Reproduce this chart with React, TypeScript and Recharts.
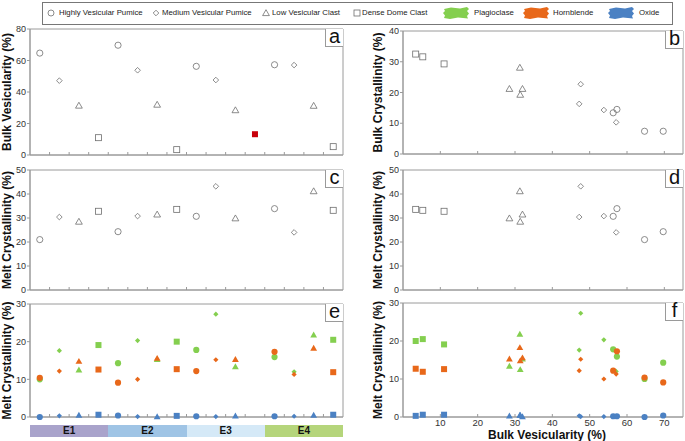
import React from "react";
import { ScatterChart, Scatter, XAxis, YAxis, ReferenceArea } from "recharts";

// samples are ordered E1..E4, each with the four clast types below
const eruptions = ["E1", "E2", "E3", "E4"];
const clastTypes = [
  "Highly Vesicular Pumice",
  "Medium Vesicular Pumice",
  "Low Vesicular Clast",
  "Dense Dome Clast",
];
const phases = ["Plagioclase", "Hornblende", "Oxide"];

const bulkVesicularity = [64.7, 47.2, 31.4, 11.0, 69.7, 53.8, 32.0, 3.4, 56.3, 47.6, 28.5, 13.2, 57.3, 57.1, 31.3, 5.3];
const bulkCrystallinity = [7.4, 16.3, 19.3, 29.3, 7.4, 14.3, 21.2, 32.5, 13.4, 22.7, 21.2, null, 14.5, 10.3, 28.1, 31.6];
const meltCrystallinity = [21.0, 30.4, 28.5, 32.8, 24.3, 30.8, 31.5, 33.6, 30.7, 43.2, 29.9, null, 33.9, 24.0, 41.2, 33.2];
const plagioclase = [10.0, 17.6, 12.5, 19.1, 14.3, 20.3, 15.3, 20.0, 17.8, 27.3, 13.4, null, 15.9, 12.0, 21.8, 20.5];
const hornblende = [10.4, 12.2, 14.8, 12.6, 9.1, 10.0, 15.6, 12.7, 12.2, 15.2, 15.3, null, 17.3, 11.3, 18.3, 11.9];
const oxide = [0.0, 0.3, 0.5, 0.6, 0.4, 0.1, 0.1, 0.3, 0.2, 0.1, 0.3, null, 0.2, 0.2, 0.5, 0.6];
const highlightedSample = 11; // dense dome clast of E3, only bulk vesicularity measured

const vesTicks = [0, 20, 40, 60, 80];
const bulkCrystTicks = [0, 10, 20, 30, 40];
const meltCrystTicks = [0, 10, 20, 30, 40, 50];
const phaseTicks = [0, 10, 20, 30];
const vesAxisTicks = [10, 20, 30, 40, 50, 60, 70];

const FONT = '"Liberation Sans", Arial, Helvetica, sans-serif';
const AXIS_GREY = "#9a9a9a";
const OPEN_STROKE = "#6e6e6e";
const phaseColors = ["#84cf4f", "#e8681a", "#4b81c3"];
const eruptionColors = ["#a9a3cb", "#9fc4e5", "#d5e9f7", "#b5d57b"];

const nSamples = bulkVesicularity.length;
const bandEdges = Array.from({ length: nSamples - 1 }, (_, i) => i + 1);

type Pt = { x: number; y: number };

function drawMarker(kind: number, cx: number, cy: number, color?: string, small = false) {
  const fill = color ?? "none";
  const stroke = color ? "none" : OPEN_STROKE;
  const sw = 0.8;
  if (kind === 0) {
    return <circle cx={cx} cy={cy} r={small ? 3 : 3.1} fill={fill} stroke={stroke} strokeWidth={sw} />;
  }
  if (kind === 1) {
    const d = color ? 2.6 : 2.8;
    return (
      <path d={`M${cx},${cy - d}L${cx + d},${cy}L${cx},${cy + d}L${cx - d},${cy}Z`} fill={fill} stroke={stroke} strokeWidth={sw} />
    );
  }
  if (kind === 2) {
    const w = 3.4;
    return (
      <path d={`M${cx},${cy - 3.3}L${cx + w},${cy + 2.6}L${cx - w},${cy + 2.6}Z`} fill={fill} stroke={stroke} strokeWidth={sw} />
    );
  }
  const s = 3;
  return <rect x={cx - s} y={cy - s} width={2 * s} height={2 * s} fill={fill} stroke={stroke} strokeWidth={sw} />;
}

// points of one clast type, either on the sample index axis or against bulk vesicularity
function pointsFor(kind: number, values: (number | null)[], byVesicularity: boolean): Pt[] {
  const out: Pt[] = [];
  values.forEach((v, i) => {
    if (v === null || i % 4 !== kind || i === highlightedSample) return;
    out.push({ x: byVesicularity ? bulkVesicularity[i] : i + 0.5, y: v });
  });
  return out;
}

type Rect = { l: number; t: number; r: number; b: number };
const YW = 30;
const MT = 4;
const MR = 2;
const XH = 22;

const rects: Record<string, Rect> = {
  a: { l: 30, t: 29, r: 343, b: 155 },
  b: { l: 403, t: 31, r: 683, b: 154 },
  c: { l: 30, t: 170, r: 343, b: 290 },
  d: { l: 403, t: 170, r: 683, b: 290 },
  e: { l: 30, t: 304, r: 343, b: 417 },
  f: { l: 403, t: 303, r: 683, b: 417 },
};

type PanelProps = {
  rect: Rect;
  byVesicularity: boolean;
  yTicks: number[];
  showXLabels?: boolean;
  children: React.ReactNode;
};

function Panel({ rect, byVesicularity, yTicks, showXLabels, children }: PanelProps) {
  const xDomain = byVesicularity ? [0, 75] : [0, nSamples];
  const yMax = yTicks[yTicks.length - 1];
  return (
    <div style={{ position: "absolute", left: rect.l - YW, top: rect.t - MT }}>
      <ScatterChart
        width={rect.r - rect.l + YW + MR}
        height={rect.b - rect.t + MT + XH}
        margin={{ top: MT, right: MR, bottom: 0, left: 0 }}
      >
        <XAxis
          type="number"
          dataKey="x"
          domain={xDomain}
          ticks={byVesicularity ? vesAxisTicks : bandEdges}
          interval={0}
          height={XH}
          tickSize={-3}
          tickMargin={5}
          tickFormatter={(v) => (showXLabels ? `${v}` : "")}
          axisLine={{ stroke: AXIS_GREY }}
          tickLine={{ stroke: AXIS_GREY }}
          tick={{ fontSize: 9.5, fill: "#333", fontFamily: FONT }}
        />
        <YAxis
          type="number"
          dataKey="y"
          domain={[0, yMax]}
          ticks={yTicks}
          interval={0}
          width={YW}
          tickSize={3}
          tickMargin={1}
          axisLine={{ stroke: AXIS_GREY }}
          tickLine={{ stroke: AXIS_GREY }}
          tick={{ fontSize: 9, fill: "#333", fontFamily: FONT }}
        />
        <ReferenceArea
          x1={xDomain[0]}
          x2={xDomain[1]}
          y1={0}
          y2={yMax}
          fill="none"
          stroke={AXIS_GREY}
          strokeWidth={1}
        />
        {children}
      </ScatterChart>
    </div>
  );
}

function openSeries(values: (number | null)[], byVes: boolean) {
  return clastTypes.map((name, k) => (
    <Scatter
      key={name}
      name={name}
      data={pointsFor(k, values, byVes)}
      isAnimationActive={false}
      shape={(p: any) => drawMarker(k, p.cx, p.cy)}
    />
  ));
}

function phaseSeries(byVes: boolean) {
  const sets = [plagioclase, hornblende, oxide];
  return sets.flatMap((values, ph) =>
    clastTypes.map((name, k) => (
      <Scatter
        key={`${phases[ph]}-${name}`}
        name={`${phases[ph]} – ${name}`}
        data={pointsFor(k, values, byVes)}
        isAnimationActive={false}
        shape={(p: any) => drawMarker(k, p.cx, p.cy, phaseColors[ph])}
      />
    ))
  );
}

const PanelTag = ({ rect, label }: { rect: Rect; label: string }) => (
  <div
    style={{
      position: "absolute",
      left: rect.r - 18,
      top: rect.t,
      width: 17,
      height: 17,
      borderLeft: `1px solid ${AXIS_GREY}`,
      borderBottom: `1px solid ${AXIS_GREY}`,
      background: "#fff",
      fontFamily: FONT,
      fontSize: 20,
      lineHeight: "15px",
      textAlign: "center",
      color: "#111",
    }}
  >
    {label}
  </div>
);

const Brush = ({ color }: { color: string }) => (
  <svg width={28} height={14} style={{ display: "block" }}>
    <path
      d="M2,3 L9,1.5 L18,2.5 L25,1 L27,3 L25,5 L27,7.5 L25,10 L26,12.5 L16,11.5 L8,13 L2,12 L3,9.5 L1,7 L3,5 Z"
      fill={color}
    />
  </svg>
);

const legendItems = [
  { x: 45, textX: 58, label: clastTypes[0], kind: 0 },
  { x: 150, textX: 161, label: clastTypes[1], kind: 1 },
  { x: 260, textX: 271, label: clastTypes[2], kind: 2 },
  { x: 351, textX: 361, label: clastTypes[3], kind: 3 },
];
const phaseLegendX = [{ x: 441, textX: 473 }, { x: 521, textX: 552 }, { x: 606, textX: 638 }];

function Legend() {
  return (
    <div
      style={{
        position: "absolute",
        left: 42,
        top: 2,
        width: 629,
        height: 21,
        border: "1px solid #777",
        fontFamily: FONT,
        fontSize: 7.8,
        color: "#222",
      }}
    >
      {legendItems.map((it) => (
        <React.Fragment key={it.label}>
          <svg width={10} height={10} style={{ position: "absolute", left: it.x - 42, top: 5 }}>
            {drawMarker(it.kind, 5, 5, undefined, true)}
          </svg>
          <span style={{ position: "absolute", left: it.textX - 42, top: 5, whiteSpace: "nowrap" }}>{it.label}</span>
        </React.Fragment>
      ))}
      {phases.map((ph, i) => (
        <React.Fragment key={ph}>
          <div style={{ position: "absolute", left: phaseLegendX[i].x - 42, top: 3 }}>
            <Brush color={phaseColors[i]} />
          </div>
          <span style={{ position: "absolute", left: phaseLegendX[i].textX - 42, top: 5, whiteSpace: "nowrap" }}>{ph}</span>
        </React.Fragment>
      ))}
    </div>
  );
}

const yTitles = [
  { x: 7, rect: rects.a, text: "Bulk Vesicularity (%)" },
  { x: 378, rect: rects.b, text: "Bulk Crystallinity (%)" },
  { x: 7, rect: rects.c, text: "Melt Crystallinity (%)" },
  { x: 378, rect: rects.d, text: "Melt Crystallinity (%)" },
  { x: 7, rect: rects.e, text: "Melt Crystallinity (%)" },
  { x: 378, rect: rects.f, text: "Melt Crystallinity (%)" },
];

export default function App() {
  const bandW = (rects.e.r - rects.e.l) / eruptions.length;
  return (
    <div
      style={{
        position: "absolute",
        left: 0,
        top: 0,
        width: 685,
        height: 441,
        background: "#fff",
        overflow: "hidden",
        fontFamily: FONT,
      }}
    >
      <Legend />

      <Panel rect={rects.a} byVesicularity={false} yTicks={vesTicks}>
        {openSeries(bulkVesicularity, false)}
        <Scatter
          name="E3 Dense Dome Clast"
          data={[{ x: highlightedSample + 0.5, y: bulkVesicularity[highlightedSample] }]}
          isAnimationActive={false}
          shape={(p: any) => drawMarker(3, p.cx, p.cy, "#c8000a")}
        />
      </Panel>
      <Panel rect={rects.b} byVesicularity yTicks={bulkCrystTicks}>
        {openSeries(bulkCrystallinity, true)}
      </Panel>
      <Panel rect={rects.c} byVesicularity={false} yTicks={meltCrystTicks}>
        {openSeries(meltCrystallinity, false)}
      </Panel>
      <Panel rect={rects.d} byVesicularity yTicks={meltCrystTicks}>
        {openSeries(meltCrystallinity, true)}
      </Panel>
      <Panel rect={rects.e} byVesicularity={false} yTicks={phaseTicks}>
        {phaseSeries(false)}
      </Panel>
      <Panel rect={rects.f} byVesicularity yTicks={phaseTicks} showXLabels>
        {phaseSeries(true)}
      </Panel>

      <PanelTag rect={rects.a} label="a" />
      <PanelTag rect={rects.b} label="b" />
      <PanelTag rect={rects.c} label="c" />
      <PanelTag rect={rects.d} label="d" />
      <PanelTag rect={rects.e} label="e" />
      <PanelTag rect={rects.f} label="f" />

      {eruptions.map((e, i) => (
        <div
          key={e}
          style={{
            position: "absolute",
            left: rects.e.l + i * bandW,
            top: 425,
            width: bandW,
            height: 12,
            background: eruptionColors[i],
            fontSize: 10,
            fontWeight: 700,
            lineHeight: "12px",
            textAlign: "center",
            color: "#111",
          }}
        >
          {e}
        </div>
      ))}

      <svg width={685} height={441} style={{ position: "absolute", left: 0, top: 0, pointerEvents: "none" }}>
        {yTitles.map((t, i) => {
          const cy = (t.rect.t + t.rect.b) / 2;
          return (
            <text
              key={i}
              x={t.x}
              y={cy}
              transform={`rotate(-90, ${t.x}, ${cy})`}
              textAnchor="middle"
              dominantBaseline="central"
              fontFamily={FONT}
              fontSize={12}
              fontWeight={700}
              fill="#111"
            >
              {t.text}
            </text>
          );
        })}
        <text x={547} y={435} textAnchor="middle" dominantBaseline="central" fontFamily={FONT} fontSize={12} fontWeight={700} fill="#111">
          Bulk Vesicularity (%)
        </text>
      </svg>
    </div>
  );
}
